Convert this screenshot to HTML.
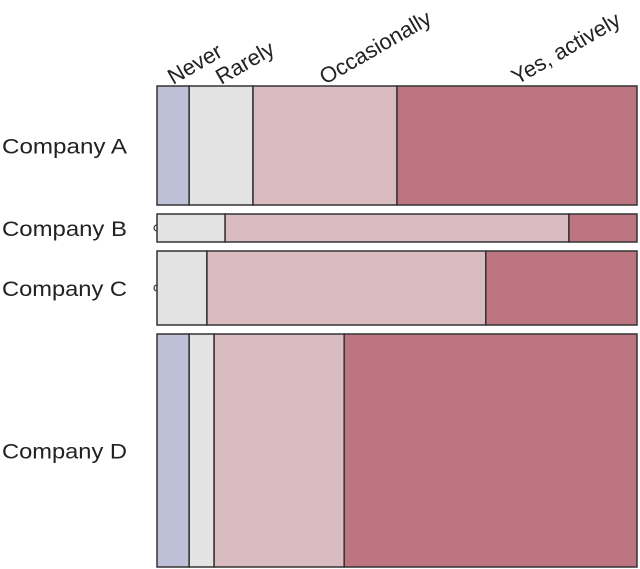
<!DOCTYPE html>
<html><head><meta charset="utf-8"><style>
html,body{margin:0;padding:0;background:#fff}
svg{display:block}
text{font-family:"Liberation Sans",sans-serif;fill:#222}
</style></head><body>
<svg id="chart" width="640" height="569" viewBox="0 0 640 569" xmlns="http://www.w3.org/2000/svg"></svg>
<script>
const companies = ["Company A","Company B","Company C","Company D"];
const responses = ["Never","Rarely","Occasionally","Yes, actively"];
const rowCounts = [119, 28, 74, 233];
const neverShare = [0.067, 0, 0, 0.067];
const rarelyShare = [0.133, 0.142, 0.104, 0.052];
const occasionallyShare = [0.300, 0.717, 0.581, 0.271];
const activelyShare = [0.500, 0.142, 0.315, 0.610];

const colors = ["#bdc0d6","#e3e3e3","#d8bcc2","#bd7582"];
const svg = document.getElementById('chart');
const NS = "http://www.w3.org/2000/svg";
const x0 = 157, x1 = 637, yTop = 86, yBot = 567, gap = 9;
const totalCount = rowCounts.reduce((a,b)=>a+b,0);
const avail = (yBot - yTop) - gap*(companies.length-1);
const xScale = v => x0 + v*(x1-x0);

function mk(tag, attrs){const e=document.createElementNS(NS,tag);for(const k in attrs)e.setAttribute(k,attrs[k]);svg.appendChild(e);return e;}

let y = yTop;
companies.forEach((c,i)=>{
  const h = rowCounts[i]/totalCount*avail;
  const shares = [neverShare[i], rarelyShare[i], occasionallyShare[i], activelyShare[i]];
  const sum = shares.reduce((a,b)=>a+b,0);
  let cum = 0;
  shares.forEach((s,j)=>{
    const xa = xScale(cum/sum), xb = xScale((cum+s)/sum);
    cum += s;
    if (s === 0) {
      const arc = mk('path',{d:`M ${x0} ${y+h/2-3} A 3 3 0 0 0 ${x0} ${y+h/2+3}`,fill:'none',stroke:'#333','stroke-width':1.2});
      
      
      return;
    }
    const r = mk('rect',{x:xa,y:y,width:xb-xa,height:h,fill:colors[j],stroke:'#333','stroke-width':1.5});
    
    
  });
  const t = mk('text',{x:2,y:y+h/2+8,'font-size':21,textLength:125,lengthAdjust:'spacingAndGlyphs'});
  t.textContent = c;
  
  
  y += h + gap;
});

{
  const shares = [neverShare[0], rarelyShare[0], occasionallyShare[0], activelyShare[0]];
  const sum = shares.reduce((a,b)=>a+b,0);
  let cum = 0;
  responses.forEach((r,j)=>{
    const cx = xScale((cum + shares[j]/2)/sum);
    cum += shares[j];
    const t = mk('text',{x:cx,y:yTop-1,'font-size':22,transform:`rotate(-30 ${cx} ${yTop-1})`});
    t.textContent = r;
    
    
  });
}
</script>
</body></html>
